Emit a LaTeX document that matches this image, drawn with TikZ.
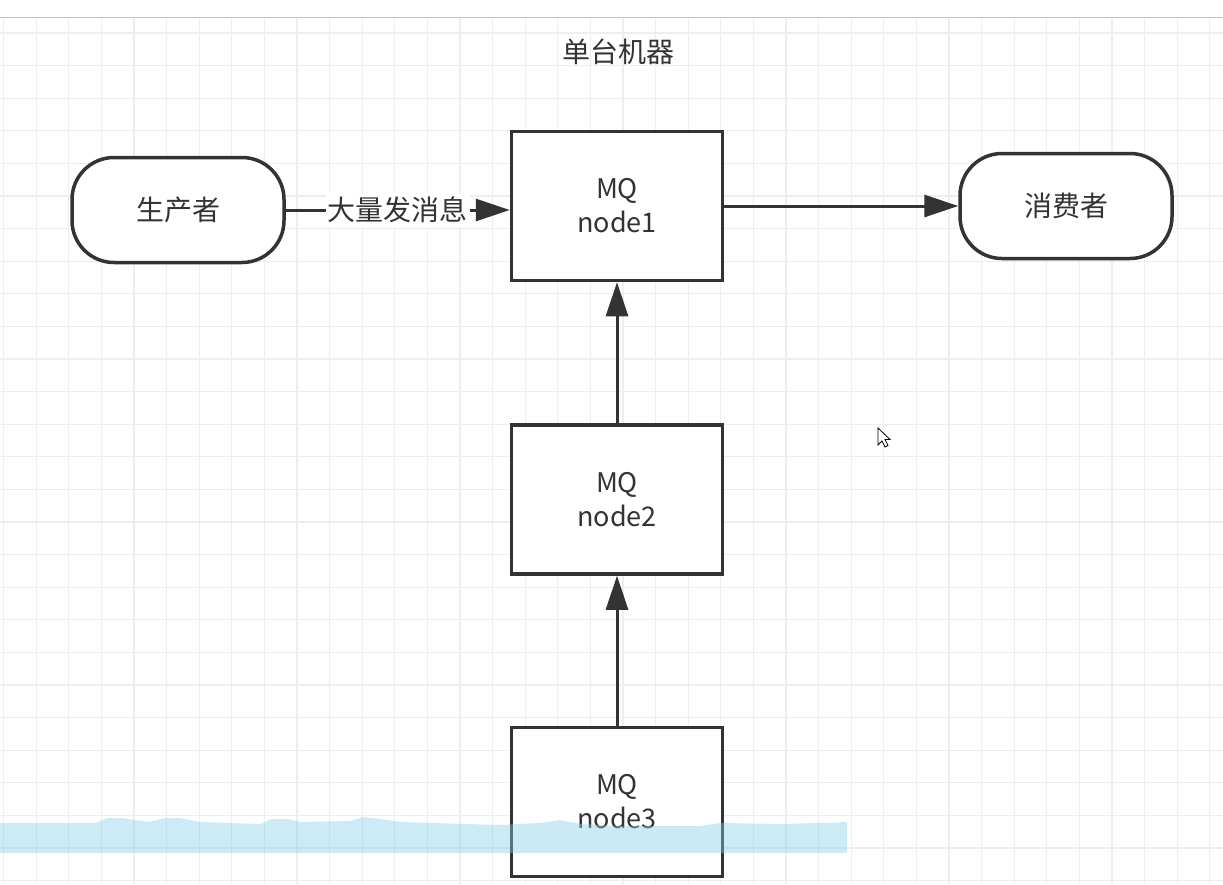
\documentclass[tikz,border=0pt]{standalone}
\usepackage{fontspec}
\setmainfont{Noto Sans CJK SC}
\usepackage{xcolor}
\usetikzlibrary{positioning,arrows.meta}
\definecolor{ink}{HTML}{333333}
\definecolor{gridline}{HTML}{EEEEEE}
\definecolor{marker}{RGB}{135,206,235}

\begin{document}
\begin{tikzpicture}[x=1pt, y=-1pt,
  node distance=140pt,
  box/.style={draw=ink, line width=3.5pt, text=ink, minimum width=211pt, minimum height=149pt,
              align=center, font=\fontsize{27}{34}\selectfont},
  term/.style={draw=ink, line width=3.5pt, text=ink, rounded corners=42pt, minimum width=212pt,
               minimum height=105pt, font=\fontsize{28}{30}\selectfont},
  arr/.style={-{Triangle[length=34pt, width=22pt]}, line width=3pt, ink}]
  \useasboundingbox (0,0) rectangle (1223,884);
  % grid paper
  \foreach \i in {0,...,37} {
    \pgfmathsetmacro{\gx}{3.5+32.6*\i}
    \draw[gridline, line width=1.2pt] (\gx,17) -- (\gx,884);
  }
  \foreach \j in {0,...,26} {
    \pgfmathsetmacro{\gy}{33+32.6*\j}
    \draw[gridline, line width=1.2pt] (0,\gy) -- (1223,\gy);
  }
  \draw[gray!45, line width=1pt] (0,17) -- (1223,17);

  \node[text=ink, font=\fontsize{28}{30}\selectfont] (title) at (618,52) {单台机器};
  \node[box, fill=white] (n1) at (617,206) {MQ\\node1};
  \node[box, fill=white, below=141pt of n1] (n2) {MQ\\node2};
  \node[box, fill=white, below=150pt of n2] (n3) {MQ\\node3};
  \node[term, fill=white, left=224pt of n1, yshift=-4pt] (prod) {生产者};
  \node[term, fill=white, right=234pt of n1] (cons) {消费者};

  \draw[arr] (prod) -- node[fill=white, text=ink, inner xsep=2pt, inner ysep=4pt,
    font=\fontsize{28}{30}\selectfont] (msg) {大量发消息} (prod -| n1.west);
  \draw[arr] (n1) -- (cons);
  \draw[arr] (n2) -- (n1);
  \draw[arr] (n3) -- (n2);

  % highlighter stroke
  \fill[marker, opacity=0.42] (0,823) -- (95,823) -- (108,818) -- (122,818) -- (135,820)
    -- (150,822) -- (165,818) -- (180,818) -- (200,822) -- (260,824) -- (272,819)
    -- (288,819) -- (300,822) -- (350,821) -- (362,817) -- (380,819) -- (400,822)
    -- (500,825) -- (540,823) -- (560,820) -- (580,824) -- (620,826) -- (700,826)
    -- (720,823) -- (780,824) -- (820,823) -- (847,822) -- (847,853) -- (0,853) -- cycle;

  % mouse pointer
  \coordinate (tip) at (878,428);
  \filldraw[fill=white, draw=black, line width=0.8pt] (tip) -- ++(0,17) -- ++(4,-4)
    -- ++(3,6) -- ++(3,-1.5) -- ++(-3,-6) -- ++(5,0) -- cycle;
\end{tikzpicture}
\end{document}
